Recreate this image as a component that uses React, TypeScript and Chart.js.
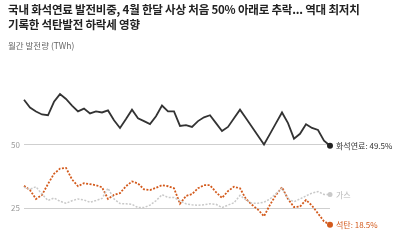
import React, { useEffect, useRef } from "react";
import { Chart, registerables } from "chart.js";

Chart.register(...registerables);

const months: string[] = [];
for (let y = 2020; y <= 2024; y++) {
  for (let m = 1; m <= 12; m++) {
    if (y === 2024 && m > 4) break;
    months.push(`${y}-${String(m).padStart(2, "0")}`);
  }
}

const fossil = [
  67.6, 64.5, 63.0, 61.8, 61.5, 66.8, 69.8, 67.9, 65.3, 63.0, 64.1, 62.2, 63.0, 62.6, 63.4, 59.5,
  56.5, 60.0, 63.7, 60.3, 59.2, 58.0, 61.1, 65.3, 63.0, 63.0, 57.3, 57.6, 56.9, 59.2, 60.7, 61.5,
  58.4, 55.3, 56.9, 60.3, 63.7, 60.3, 56.9, 53.4, 50.0, 54.2, 58.4, 62.6, 58.4, 52.3, 54.2, 58.0,
  56.5, 55.7, 51.5, 49.5,
];

const coal = [
  33.8, 32.1, 28.6, 30.2, 34.5, 38.5, 40.5, 40.8, 36.3, 33.6, 34.8, 34.4, 34.0, 33.2, 28.6, 30.2,
  30.9, 33.6, 35.5, 34.7, 32.4, 32.1, 33.0, 34.0, 33.6, 32.8, 26.7, 29.8, 30.5, 32.8, 34.0, 34.0,
  31.3, 29.0, 31.7, 33.4, 32.8, 28.6, 26.3, 24.4, 21.8, 26.3, 30.2, 33.2, 28.6, 25.4, 25.6, 28.2,
  26.0, 22.9, 19.8, 18.5,
];

const gas = [
  33.2, 32.4, 33.4, 30.5, 28.0, 29.0, 27.7, 26.9, 27.9, 28.6, 28.2, 27.3, 28.0, 28.8, 32.8, 28.6,
  26.8, 26.7, 26.5, 25.2, 25.2, 26.2, 27.9, 30.3, 29.2, 29.2, 27.9, 26.7, 26.3, 26.1, 26.3, 26.7,
  26.5, 25.2, 26.2, 27.1, 30.0, 28.2, 26.9, 26.9, 27.3, 28.6, 30.7, 32.8, 28.6, 27.5, 28.6, 29.8,
  30.9, 31.5, 30.4, 30.4,
];

const yTicks = [25, 50];
const endLabels = ["화석연료: 49.5%", "석탄: 18.5%", "가스"];

const FONT = "'Noto Sans CJK KR', 'Noto Sans', sans-serif";

const endLabelPlugin = {
  id: "endLabels",
  afterDatasetsDraw(chart: any) {
    const ctx = chart.ctx;
    ctx.save();
    chart.data.datasets.forEach((ds: any, i: number) => {
      const meta = chart.getDatasetMeta(i);
      const pt = meta.data[meta.data.length - 1];
      if (!pt) return;
      ctx.font = `${ds.labelWeight} 8px ${FONT}`;
      ctx.fillStyle = ds.labelColor;
      ctx.textBaseline = "middle";
      ctx.textAlign = "left";
      ctx.fillText(ds.label, pt.x + 6, pt.y + 0.5);
    });
    ctx.restore();
  },
};

export default function App() {
  const ref = useRef<HTMLCanvasElement>(null);
  useEffect(() => {
    if (!ref.current) return;
    const last = months.length - 1;
    const chart = new Chart(ref.current, {
      type: "line",
      data: {
        labels: months,
        datasets: [
          {
            label: endLabels[2],
            data: gas,
            borderColor: "#c9c9c9",
            backgroundColor: "#c9c9c9",
            borderWidth: 1.5,
            borderDash: [2, 1.5],
            pointRadius: (c: any) => (c.dataIndex === last ? 2.5 : 0),
            pointBorderWidth: 0,
            tension: 0,
            labelColor: "#b8b8b8",
            labelWeight: "normal",
          } as any,
          {
            label: endLabels[1],
            data: coal,
            borderColor: "#d35a1c",
            backgroundColor: "#d35a1c",
            borderWidth: 1.8,
            borderDash: [2, 1.5],
            pointRadius: (c: any) => (c.dataIndex === last ? 3 : 0),
            pointBorderWidth: 0,
            tension: 0,
            labelColor: "#d35a1c",
            labelWeight: "normal",
          } as any,
          {
            label: endLabels[0],
            data: fossil,
            borderColor: "#333333",
            backgroundColor: "#222222",
            borderWidth: 1.8,
            pointRadius: (c: any) => (c.dataIndex === last ? 3 : 0),
            pointBorderWidth: 0,
            tension: 0,
            labelColor: "#333333",
            labelWeight: "normal",
          } as any,
        ],
      },
      options: {
        animation: false,
        responsive: false,
        maintainAspectRatio: false,
        layout: { padding: { top: 58, bottom: 3.4, right: 70, left: 0 } },
        plugins: { legend: { display: false }, tooltip: { enabled: false } },
        scales: {
          x: { type: "category", display: false, offset: false },
          y: {
            min: 12,
            max: 84,
            border: { display: false },
            grid: { color: "#cfcfcf", lineWidth: 1, drawTicks: false },
            ticks: { color: "#9a9a9a", font: { size: 8, family: FONT }, padding: 4 },
            afterBuildTicks: (axis: any) => {
              axis.ticks = yTicks.map((v) => ({ value: v }));
            },
            afterFit: (axis: any) => {
              axis.width = 24;
            },
          },
        },
      },
      plugins: [endLabelPlugin],
    });
    return () => chart.destroy();
  }, []);

  return (
    <div
      style={{
        position: "fixed",
        left: 0,
        top: 0,
        width: 400,
        height: 250,
        background: "#ffffff",
        overflow: "hidden",
        fontFamily: FONT,
      }}
    >
      <canvas ref={ref} width={400} height={250} style={{ position: "absolute", left: 0, top: 0 }} />
      <div
        style={{
          position: "absolute",
          left: 8,
          top: 2,
          width: 390,
          fontSize: 11.5,
          fontWeight: 700,
          lineHeight: "15px",
          color: "#222",
          letterSpacing: "-0.2px",
        }}
      >
        국내 화석연료 발전비중, 4월 한달 사상 처음 50% 아래로 추락... 역대 최저치
        <br />
        기록한 석탄발전 하락세 영향
      </div>
      <div style={{ position: "absolute", left: 8, top: 39, fontSize: 8.5, color: "#666" }}>
        월간 발전량 (TWh)
      </div>
    </div>
  );
}
